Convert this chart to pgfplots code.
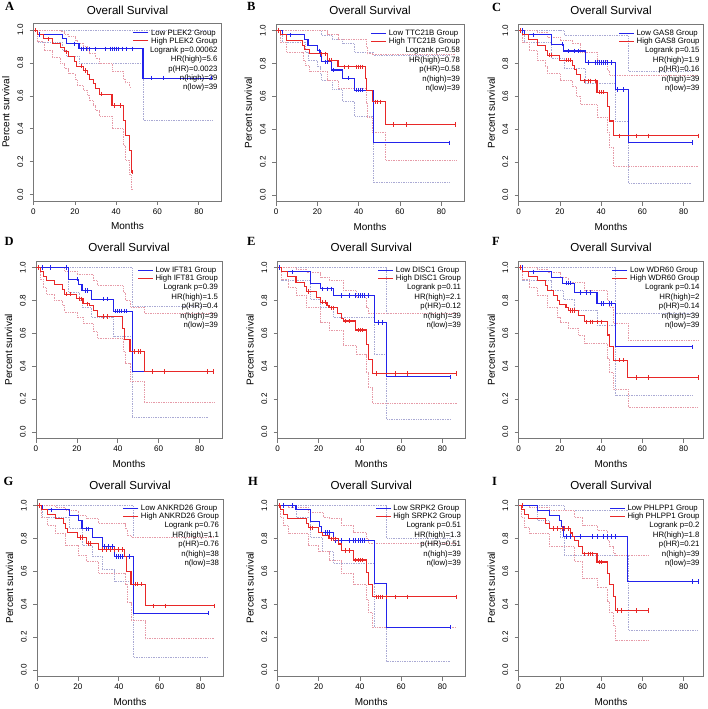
\documentclass[border=0pt]{standalone}
\usepackage{fontspec}
\setmainfont{Liberation Sans}
\newfontfamily\letterfont{Liberation Serif}
\usepackage{pgfplots}
\pgfplotsset{compat=1.18}
\definecolor{kmblue}{RGB}{35,35,235}
\definecolor{kmred}{RGB}{232,40,40}
\definecolor{ciblue}{RGB}{170,170,212}
\definecolor{cired}{RGB}{230,155,168}
\definecolor{axgray}{RGB}{120,120,120}
\pgfplotsset{
 km/.style={scale only axis, width=188pt, height=177.5pt, xmin=0, xmax=91, ymin=-0.04, ymax=1.04,
  axis line style={draw=axgray, line width=0.6pt}, tick style={draw=axgray, line width=0.6pt},
  tick align=outside, tick pos=left, major tick length=4pt,
  xtick={0,20,40,60,80}, ytick={0,0.2,0.4,0.6,0.8,1},
  xticklabel={\pgfmathprintnumber[assume math mode=true]{\tick}},
  yticklabel={\pgfmathprintnumber[fixed, fixed zerofill, precision=1, assume math mode=true]{\tick}},
  tick label style={font=\fontsize{8.1}{9}\selectfont, inner sep=0pt},
  xticklabel style={anchor=base},
  yticklabel style={rotate=90, anchor=base},
  xticklabel shift=9.4pt, yticklabel shift=6.4pt,
  title={Overall Survival},
  title style={at={(axis description cs:0.5,1.0186)}, anchor=base, font=\fontsize{11.6}{12}\selectfont, inner sep=0pt},
  xlabel={Months},
  xlabel style={at={(axis description cs:0.5,-0.161)}, anchor=base, font=\fontsize{10}{12}\selectfont, inner sep=0pt},
  ylabel={Percent survival},
  ylabel style={at={(axis description cs:-0.1277,0.5)}, anchor=base, font=\fontsize{10}{12}\selectfont, inner sep=0pt},
 },
 lo/.style={draw=kmblue, solid, line width=1.1pt, const plot, mark=none},
 hi/.style={draw=kmred, solid, line width=1.1pt, const plot, mark=none},
 loc/.style={draw=kmblue, solid, only marks, mark=|, mark size=2.2pt, mark options={draw=kmblue, solid, line width=0.7pt}},
 hic/.style={draw=kmred, solid, only marks, mark=|, mark size=2.2pt, mark options={draw=kmred, solid, line width=0.7pt}},
 cilo/.style={draw=ciblue, line width=0.55pt, dash pattern=on 0.7pt off 1pt, const plot, mark=none},
 cihi/.style={draw=cired, line width=0.55pt, dash pattern=on 0.7pt off 1pt, const plot, mark=none},
}
\newcommand\kmleg[6]{%
\node[name=lg, anchor=base east, inner sep=0pt, font=\fontsize{7.8}{7.8}\selectfont] at ([xshift=-3.8pt,yshift=-11.8pt]rel axis cs:1,1) {\begin{tabular}[t]{@{}l@{}}Low #1 Group\\High #1 Group\end{tabular}};
\draw[draw=kmblue, solid, line width=0.9pt] ([xshift=-2.5pt,yshift=2.6pt]lg.base west) -- ++(-15pt,0pt);
\draw[draw=kmred, solid, line width=0.9pt] ([xshift=-2.5pt,yshift=-5.2pt]lg.base west) -- ++(-15pt,0pt);
\node[anchor=base east, inner sep=0pt, font=\fontsize{7.8}{9.4}\selectfont] at ([xshift=-3.8pt,yshift=-28.8pt]rel axis cs:1,1) {\begin{tabular}[t]{@{}r@{}}Logrank p=#2\\HR(high)=#3\\p(HR)=#4\\n(high)=#5\\n(low)=#6\end{tabular}};
}
\newcommand\plab[3]{\node[anchor=base west, inner sep=0pt, font=\letterfont\bfseries\fontsize{12.5}{12.5}\selectfont] at (#1pt,-#2pt) {#3};}
\begin{document}
\begin{tikzpicture}
\useasboundingbox (0,0) rectangle (707pt,-709pt);
\plab{5}{11}{A}\plab{247}{11}{B}\plab{492}{11.7}{C}
\plab{4.5}{245}{D}\plab{247}{245.7}{E}\plab{492}{245.7}{F}
\plab{3.5}{485.7}{G}\plab{248}{485.7}{H}\plab{492}{485.7}{I}
% ---------------- A
\begin{axis}[km, at={(33.5pt,-23.5pt)}, anchor=north west]
\addplot[cilo] coordinates {(0,1)(87,1)};
\addplot[cilo] coordinates {(0,1)(2,0.925)(14,0.88)(16,0.84)(22,0.80)(53,0.45)(87,0.45)};
\addplot[cihi] coordinates {(0,1)(9,1)(13,0.99)(15,0.975)(17,0.96)(20,0.94)(21,0.92)(24,0.90)(26,0.88)(27,0.86)(30,0.83)(32,0.80)(38,0.75)(43.5,0.70)(44.5,0.68)(46.5,0.655)(47.3,0.655)};
\addplot[cihi] coordinates {(0,1)(2,0.93)(5,0.875)(9,0.835)(13,0.80)(15,0.765)(17,0.735)(20,0.70)(21,0.665)(24,0.635)(26,0.605)(27,0.57)(29,0.545)(30,0.51)(32,0.476)(38,0.40)(43.5,0.30)(44.5,0.21)(46.5,0.12)(47.3,0.03)(48,0.03)};
\addplot[lo] coordinates {(0,1)(2,0.974)(14,0.947)(16,0.917)(22,0.886)(53,0.708)(87,0.708)};
\addplot[hi] coordinates {(0,1)(2,0.974)(5,0.947)(9,0.92)(13,0.895)(15,0.868)(17,0.84)(20,0.81)(21,0.78)(24,0.755)(26,0.73)(27,0.70)(29,0.675)(30,0.645)(32,0.61)(38,0.54)(43.5,0.45)(44.5,0.36)(46.5,0.27)(47.3,0.135)(48,0.135)};
\addplot[loc] coordinates {(3,0.974)(20,0.917)(23,0.886)(24,0.886)(25.5,0.886)(27,0.886)(30,0.886)(35,0.886)(37,0.886)(38,0.886)(39,0.886)(40,0.886)(41,0.886)(43,0.886)(45,0.886)(48,0.886)(57,0.708)(63,0.708)(86,0.708)};
\addplot[hic] coordinates {(1,1)(7,0.947)(16,0.868)(23,0.78)(25,0.755)(33,0.61)(39,0.54)(42,0.54)(48,0.135)};
\kmleg{PLEK2}{0.00062}{5.6}{0.0023}{39}{39}
\end{axis}
% ---------------- B
\begin{axis}[km, at={(276pt,-24pt)}, anchor=north west]
\addplot[cilo] coordinates {(0,1)(20,1)(22,0.97)(27,0.95)(32,0.92)(38,0.87)(47,0.85)(84,0.85)};
\addplot[cilo] coordinates {(0,1)(3,0.93)(14,0.87)(15.5,0.82)(20,0.78)(21.5,0.74)(22,0.70)(27,0.64)(32,0.57)(38,0.48)(47,0.075)(84,0.075)};
\addplot[cihi] coordinates {(0,1)(16,1)(25,0.98)(30,0.95)(43.5,0.90)(44,0.86)(46.5,0.855)(53,0.855)(87,0.855)};
\addplot[cihi] coordinates {(0,1)(2,0.93)(5,0.87)(13,0.82)(14,0.79)(16,0.75)(25,0.70)(30,0.65)(43.5,0.56)(44,0.47)(46.5,0.38)(53,0.21)(87,0.21)};
\addplot[lo] coordinates {(0,1)(3,0.974)(14,0.945)(15.5,0.91)(20,0.877)(21.5,0.845)(22,0.81)(27,0.76)(32,0.71)(38,0.638)(47,0.317)(84,0.317)};
\addplot[hi] coordinates {(0,1)(2,0.974)(5,0.94)(13,0.91)(14,0.885)(16,0.858)(25,0.82)(30,0.78)(43.5,0.71)(44,0.638)(46.5,0.567)(53,0.428)(87,0.428)};
\addplot[loc] coordinates {(7,0.974)(21,0.877)(24,0.81)(25,0.81)(28,0.76)(35,0.71)(39,0.638)(40,0.638)(41,0.638)(42,0.638)(84,0.317)};
\addplot[hic] coordinates {(1,1)(22,0.858)(24,0.858)(26,0.82)(27,0.82)(33,0.78)(35,0.78)(39,0.78)(40,0.78)(41,0.78)(42,0.78)(48,0.567)(49,0.567)(50.5,0.567)(57,0.428)(63,0.428)(87,0.428)};
\kmleg{TTC21B}{0.58}{0.78}{0.58}{39}{39}
\end{axis}
% ---------------- C
\begin{axis}[km, width=185pt, xmax=89.6, at={(518.5pt,-24pt)}, anchor=north west]
\addplot[cilo] coordinates {(0,1)(20,1)(22,0.97)(46.8,0.97)(53.3,0.75)(84,0.75)};
\addplot[cilo] coordinates {(0,1)(3,0.93)(16,0.83)(22,0.77)(32.5,0.68)(46.8,0.45)(53.3,0.07)(84,0.07)};
\addplot[cihi] coordinates {(0,1)(9,0.99)(14,0.96)(20,0.94)(26,0.92)(30,0.87)(38,0.82)(43,0.76)(44,0.73)(87,0.73)};
\addplot[cihi] coordinates {(0,1)(2,0.93)(5,0.88)(9,0.82)(13,0.78)(14,0.74)(20,0.70)(26,0.66)(28,0.6)(30,0.55)(38,0.47)(43,0.38)(44,0.29)(46,0.175)(87,0.175)};
\addplot[lo] coordinates {(0,1)(3,0.974)(16,0.917)(22,0.876)(32.5,0.805)(46.8,0.641)(53.3,0.318)(84,0.318)};
\addplot[hi] coordinates {(0,1)(2,0.974)(5,0.947)(9,0.91)(13,0.88)(14,0.85)(20,0.82)(26,0.79)(27,0.765)(28,0.735)(30,0.695)(38,0.625)(43,0.54)(44,0.45)(46,0.36)(87,0.36)};
\addplot[loc] coordinates {(2,1)(7,0.974)(21,0.917)(24,0.876)(27,0.876)(29,0.876)(34,0.805)(37,0.805)(38,0.805)(39,0.805)(40,0.805)(41,0.805)(42,0.805)(43,0.805)(45,0.805)(48,0.641)(51,0.641)(84,0.318)};
\addplot[hic] coordinates {(1,1)(15,0.85)(16,0.85)(23,0.82)(24,0.82)(25,0.82)(32,0.695)(34,0.695)(35,0.695)(37,0.695)(39,0.625)(40,0.625)(41,0.625)(49,0.36)(57,0.36)(63,0.36)(87,0.36)};
\kmleg{GAS8}{0.15}{1.9}{0.16}{39}{39}
\end{axis}
% ---------------- D
\begin{axis}[km, at={(36pt,-261pt)}, anchor=north west, width=186pt]
\addplot[cilo] coordinates {(0,1)(38,1)(47,0.765)(84,0.765)};
\addplot[cilo] coordinates {(0,1)(16,0.85)(21,0.80)(22.5,0.76)(27,0.70)(38,0.58)(47,0.087)(84,0.087)};
\addplot[cihi] coordinates {(0,1)(9,1)(14,0.98)(20,0.96)(28,0.92)(30,0.89)(42.5,0.85)(43.5,0.80)(46,0.76)(53,0.72)(87,0.72)};
\addplot[cihi] coordinates {(0,1)(2,0.93)(3.5,0.88)(5,0.84)(9,0.80)(13,0.77)(14,0.73)(20,0.70)(23,0.66)(28,0.61)(30,0.57)(42.5,0.49)(43.5,0.42)(46,0.31)(53,0.178)(87,0.178)};
\addplot[lo] coordinates {(0,1)(16,0.929)(21,0.895)(22.5,0.86)(27,0.808)(38,0.735)(47,0.368)(84,0.368)};
\addplot[hi] coordinates {(0,1)(2,0.974)(3.5,0.947)(5,0.92)(9,0.895)(13,0.865)(14,0.838)(20,0.81)(23,0.78)(26,0.77)(28,0.74)(30,0.703)(42.5,0.63)(43.5,0.56)(46,0.49)(53,0.368)(87,0.368)};
\addplot[loc] coordinates {(1,1)(3,1)(7,1)(15,1)(20,0.929)(24,0.86)(25,0.86)(33,0.808)(35,0.808)(39,0.735)(40,0.735)(41,0.735)(42,0.735)(43,0.735)(44,0.735)(84,0.368)};
\addplot[hic] coordinates {(1,1)(15,0.838)(17,0.838)(21,0.81)(22,0.81)(25,0.78)(33,0.703)(35,0.703)(48,0.49)(50,0.49)(51,0.49)(57,0.368)(63,0.368)(84,0.368)(87,0.368)};
\kmleg{IFT81}{0.39}{1.5}{0.4}{39}{39}
\end{axis}
% ---------------- E
\begin{axis}[km, at={(277.5pt,-261pt)}, anchor=north west, width=187.5pt]
\addplot[cilo] coordinates {(0,1)(47,1)(53,0.72)(84,0.72)};
\addplot[cilo] coordinates {(0,1)(2,0.92)(16,0.81)(21,0.76)(27,0.70)(47,0.47)(53,0.075)(84,0.075)};
\addplot[cihi] coordinates {(0,1)(9,0.99)(14,0.97)(21,0.94)(25,0.92)(32,0.86)(38,0.82)(43,0.76)(44,0.72)(87,0.72)};
\addplot[cihi] coordinates {(0,1)(2,0.93)(5,0.88)(9,0.83)(14,0.76)(21,0.67)(25,0.62)(32,0.53)(38,0.47)(43,0.36)(44,0.27)(46,0.175)(87,0.175)};
\addplot[lo] coordinates {(0,1)(2,0.974)(16,0.905)(21,0.87)(27,0.83)(47,0.665)(53,0.335)(84,0.335)};
\addplot[hi] coordinates {(0,1)(2,0.974)(5,0.947)(9,0.91)(13,0.885)(14,0.855)(19,0.82)(21,0.79)(24,0.77)(25,0.755)(29,0.72)(31,0.69)(32,0.675)(38,0.62)(43,0.53)(44,0.44)(46,0.355)(87,0.355)};
\addplot[loc] coordinates {(1,1)(7,0.974)(22,0.87)(24,0.87)(26,0.87)(31,0.83)(35,0.83)(38,0.83)(39,0.83)(40,0.83)(41,0.83)(42,0.83)(44,0.83)(49,0.665)(51,0.665)(84,0.335)};
\addplot[hic] coordinates {(15,0.855)(22,0.79)(23,0.79)(26,0.755)(27,0.755)(33,0.675)(35,0.675)(39,0.62)(40,0.62)(41,0.62)(48,0.355)(57,0.355)(63,0.355)(87,0.355)};
\kmleg{DISC1}{0.11}{2.1}{0.12}{39}{39}
\end{axis}
% ---------------- F
\begin{axis}[km, width=185pt, xmax=89.6, at={(518.5pt,-261pt)}, anchor=north west]
\addplot[cilo] coordinates {(0,1)(38,1)(47,0.72)(84,0.72)};
\addplot[cilo] coordinates {(0,1)(2,0.92)(16,0.86)(21.5,0.81)(27,0.74)(38,0.65)(47,0.224)(84,0.224)};
\addplot[cihi] coordinates {(0,1)(9,0.99)(14,0.97)(20,0.94)(24,0.91)(32,0.86)(43,0.80)(44,0.76)(46,0.66)(53,0.56)(87,0.56)};
\addplot[cihi] coordinates {(0,1)(2,0.93)(5,0.88)(9,0.83)(14,0.76)(19,0.70)(20,0.67)(24,0.63)(29,0.59)(32,0.54)(43,0.45)(44,0.36)(46,0.26)(53,0.15)(87,0.15)};
\addplot[lo] coordinates {(0,1)(2,0.974)(16,0.939)(21.5,0.905)(27,0.848)(38,0.782)(47,0.518)(84,0.518)};
\addplot[hi] coordinates {(0,1)(2,0.974)(5,0.947)(9,0.92)(13,0.89)(14,0.86)(17,0.83)(19,0.80)(20,0.775)(23,0.755)(24,0.74)(29,0.71)(32,0.67)(43,0.59)(44,0.52)(46,0.437)(53,0.331)(87,0.331)};
\addplot[loc] coordinates {(2,1)(7,0.974)(23,0.905)(24,0.905)(25,0.905)(30,0.848)(33,0.848)(35,0.848)(40,0.782)(41,0.782)(44,0.782)(45,0.782)(84,0.518)};
\addplot[hic] coordinates {(1,1)(25,0.74)(26,0.74)(27,0.74)(33,0.67)(35,0.67)(36,0.67)(38,0.67)(40,0.67)(49,0.437)(51,0.437)(57,0.331)(63,0.331)(87,0.331)};
\kmleg{WDR60}{0.14}{2}{0.14}{39}{39}
\end{axis}
% ---------------- G
\begin{axis}[km, at={(37pt,-499pt)}, anchor=north west, width=186pt]
\addplot[cilo] coordinates {(0,1)(38,1)(47,0.81)(84,0.81)};
\addplot[cilo] coordinates {(0,1)(2.5,0.93)(16,0.86)(22,0.76)(27,0.69)(32,0.61)(38,0.54)(47,0.08)(84,0.08)};
\addplot[cihi] coordinates {(0,1)(9,0.99)(14,0.97)(20,0.94)(24,0.92)(30,0.89)(43,0.86)(44,0.82)(46,0.81)(87,0.81)};
\addplot[cihi] coordinates {(0,1)(2,0.93)(5,0.88)(9,0.83)(14,0.76)(20,0.70)(24,0.66)(30,0.59)(43,0.52)(44,0.41)(46,0.30)(53,0.19)(87,0.19)};
\addplot[lo] coordinates {(0,1)(2.5,0.974)(16,0.939)(20.5,0.91)(22,0.858)(27,0.807)(32,0.75)(38,0.69)(47,0.345)(84,0.345)};
\addplot[hi] coordinates {(0,1)(2,0.974)(5,0.947)(9,0.92)(13,0.89)(14,0.86)(15,0.835)(20,0.805)(24,0.77)(30,0.732)(43,0.69)(44,0.60)(46,0.522)(53,0.39)(87,0.39)};
\addplot[loc] coordinates {(1,1)(7,0.974)(24,0.858)(25,0.858)(33,0.75)(35,0.75)(37,0.75)(39,0.69)(40,0.69)(41,0.69)(42,0.69)(45,0.69)(84,0.345)};
\addplot[hic] coordinates {(1,1)(21,0.805)(22,0.805)(25,0.77)(26,0.77)(32,0.732)(34,0.732)(36,0.732)(38,0.732)(40,0.732)(42,0.732)(48,0.522)(49,0.522)(51,0.522)(57,0.39)(63,0.39)(87,0.39)};
\kmleg{ANKRD26}{0.76}{1.1}{0.76}{38}{38}
\end{axis}
% ---------------- H
\begin{axis}[km, at={(277.5pt,-499pt)}, anchor=north west, width=187.5pt]
\addplot[cilo] coordinates {(0,1)(47,1)(53,0.8)(84,0.8)};
\addplot[cilo] coordinates {(0,1)(9,0.93)(16,0.81)(21.5,0.72)(27,0.65)(47,0.26)(53,0.05)(84,0.05)};
\addplot[cihi] coordinates {(0,1)(5,0.99)(15,0.96)(22,0.93)(25,0.92)(31,0.88)(37,0.84)(43,0.80)(44,0.77)(87,0.77)};
\addplot[cihi] coordinates {(0,1)(1.5,0.93)(3,0.88)(5,0.83)(15,0.76)(20,0.72)(25,0.67)(31,0.59)(37,0.52)(43,0.43)(44,0.35)(46,0.26)(87,0.26)};
\addplot[lo] coordinates {(0,1)(9,0.974)(16,0.904)(20.5,0.87)(21.5,0.835)(27,0.787)(47,0.524)(53,0.26)(84,0.26)};
\addplot[hi] coordinates {(0,1)(1.5,0.974)(3,0.947)(5,0.919)(14,0.89)(15,0.864)(20,0.835)(22,0.82)(25,0.797)(29.5,0.766)(31,0.726)(37,0.669)(43,0.595)(44,0.518)(46,0.445)(87,0.445)};
\addplot[loc] coordinates {(1,1)(3,1)(7,1)(23,0.835)(24,0.835)(25,0.835)(28,0.787)(31,0.787)(35,0.787)(37,0.787)(38,0.787)(39,0.787)(40,0.787)(41,0.787)(42,0.787)(84,0.26)};
\addplot[hic] coordinates {(1,1)(16,0.864)(17,0.864)(26,0.797)(27,0.797)(28,0.797)(33,0.726)(35,0.726)(38,0.669)(39,0.669)(40,0.669)(41,0.669)(48,0.445)(49,0.445)(50,0.445)(51,0.445)(53,0.445)(57,0.445)(63,0.445)(87,0.445)};
\kmleg{SRPK2}{0.51}{1.3}{0.51}{39}{39}
\end{axis}
% ---------------- I
\begin{axis}[km, width=185pt, xmax=89.6, at={(518.5pt,-499pt)}, anchor=north west]
\addplot[cilo] coordinates {(0,1)(22,0.97)(53,0.97)};
\addplot[cilo] coordinates {(0,1)(9,0.91)(15,0.86)(20,0.81)(22,0.70)(53,0.244)(87,0.244)};
\addplot[cihi] coordinates {(0,1)(5,0.99)(15,0.97)(27,0.93)(31,0.88)(38,0.85)(43,0.79)(44,0.75)(46,0.71)(47,0.70)(63,0.70)};
\addplot[cihi] coordinates {(0,1)(1.5,0.93)(3,0.87)(5,0.83)(15,0.75)(27,0.66)(31,0.56)(38,0.50)(43,0.42)(44,0.35)(46,0.27)(47,0.183)(63,0.183)};
\addplot[lo] coordinates {(0,1)(9,0.97)(15,0.939)(20,0.908)(21,0.87)(22,0.813)(53,0.539)(87,0.539)};
\addplot[hi] coordinates {(0,1)(1.5,0.974)(3,0.945)(5,0.919)(13,0.89)(15,0.86)(25,0.833)(26,0.81)(27,0.789)(29,0.75)(31,0.707)(38,0.657)(43,0.585)(44,0.522)(46,0.445)(47,0.362)(63,0.362)};
\addplot[loc] coordinates {(2,1)(23,0.813)(25,0.813)(30,0.813)(36,0.813)(38,0.813)(41,0.813)(43,0.813)(45,0.813)(47,0.813)(84,0.539)(87,0.539)};
\addplot[hic] coordinates {(2,1)(17,0.86)(19,0.86)(21,0.86)(22,0.86)(24,0.86)(32,0.707)(34,0.707)(35,0.707)(36,0.707)(39,0.657)(40,0.657)(48,0.362)(50,0.362)(57,0.362)(63,0.362)};
\kmleg{PHLPP1}{0.2}{1.8}{0.21}{39}{39}
\end{axis}
\end{tikzpicture}
\end{document}
